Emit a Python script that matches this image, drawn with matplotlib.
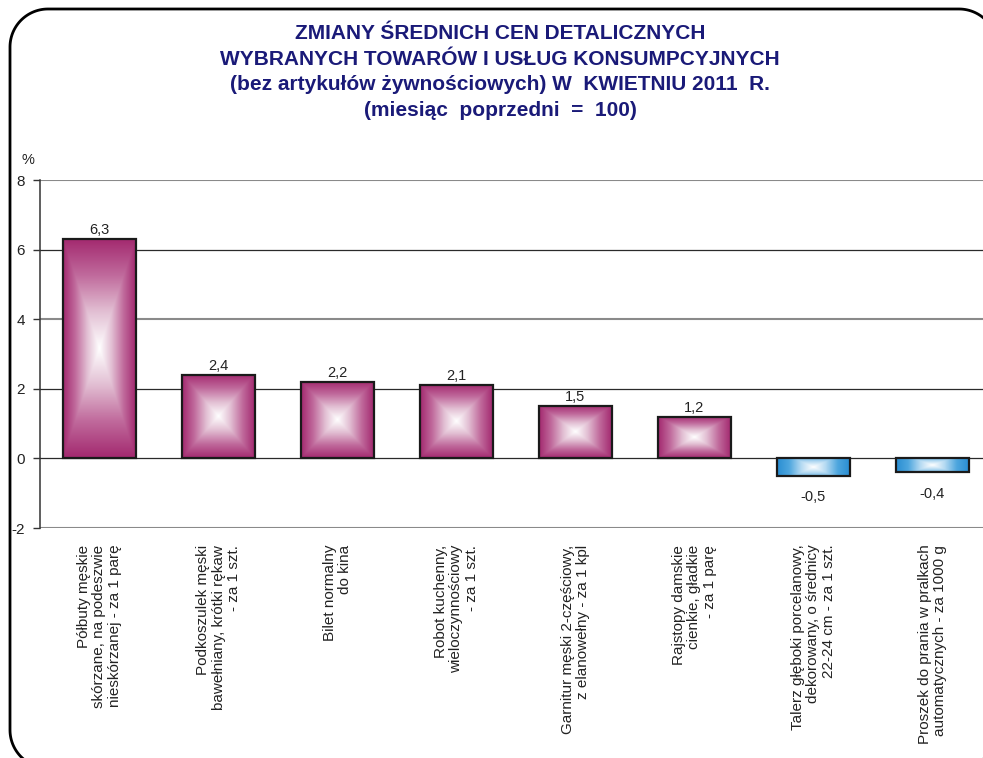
import numpy as np
import matplotlib
matplotlib.use("Agg")
import matplotlib.pyplot as plt
from matplotlib.colors import LinearSegmentedColormap

plt.rcParams['font.family'] = ['Liberation Sans', 'DejaVu Sans']

categories = [
    "Półbuty męskie\nskórzane, na podeszwie\nnieskórzanej - za 1 parę",
    "Podkoszulek męski\nbawełniany, krótki rękaw\n- za 1 szt.",
    "Bilet normalny\ndo kina",
    "Robot kuchenny,\nwieloczynnościowy\n- za 1 szt.",
    "Garnitur męski 2-częściowy,\nz elanowełny - za 1 kpl",
    "Rajstopy damskie\ncienkie, gładkie\n- za 1 parę",
    "Talerz głęboki porcelanowy,\ndekorowany, o średnicy\n22-24 cm - za 1 szt.",
    "Proszek do prania w pralkach\nautomatycznych - za 1000 g",
]
values = [6.3, 2.4, 2.2, 2.1, 1.5, 1.2, -0.5, -0.4]
value_labels = ["6,3", "2,4", "2,2", "2,1", "1,5", "1,2", "-0,5", "-0,4"]
y_ticks = [-2, 0, 2, 4, 6, 8]

title = ("ZMIANY ŚREDNICH CEN DETALICZNYCH\n"
         "WYBRANYCH TOWARÓW I USŁUG KONSUMPCYJNYCH\n"
         "(bez artykułów żywnościowych) W  KWIETNIU 2011  R.\n"
         "(miesiąc  poprzedni  =  100)")

W, H = 983, 758
fig = plt.figure(figsize=(W / 100, H / 100), dpi=100)

# background frame axes (pixel coordinates, y measured from bottom)
bg = fig.add_axes([0, 0, 1, 1], zorder=0)
bg.set_xlim(0, W)
bg.set_ylim(0, H)
bg.axis('off')


def rounded_rect_xy(x0, y0, x1, y1, r, m=30):
    pts = []
    corners = [((x1 - r, y0 + r), -90, 0), ((x1 - r, y1 - r), 0, 90),
               ((x0 + r, y1 - r), 90, 180), ((x0 + r, y0 + r), 180, 270)]
    for (cx, cy), a0, a1 in corners:
        t = np.radians(np.linspace(a0, a1, m))
        pts.extend(zip(cx + r * np.cos(t), cy + r * np.sin(t)))
    pts.append(pts[0])
    return np.array(pts)


fr = rounded_rect_xy(10, H - 768, 997, H - 9, 38)
bg.plot(fr[:, 0], fr[:, 1], color='black', linewidth=2.0,
        solid_joinstyle='round', clip_on=True)

bg.text(500, H - 24, title, ha='center', va='top', fontsize=15,
        fontweight='bold', color='#1a1a78', linespacing=1.44)
bg.text(28, H - 160, "%", ha='center', va='center', fontsize=10.5, color='#222222')

ax = fig.add_axes([40 / W, 1 - 528 / H, 952 / W, 348 / H], zorder=1)
ax.patch.set_alpha(0)

n = len(values)
x = np.arange(n)
bw = 0.61
bars = ax.bar(x, values, width=bw, facecolor='none', edgecolor='#1a1a1a',
              linewidth=1.6, zorder=4)

purple = LinearSegmentedColormap.from_list('p', ['#ffffff', '#e2bfd3', '#c06a9c', '#a3296f'])
blue = LinearSegmentedColormap.from_list('b', ['#ffffff', '#b5daf2', '#4ea6de', '#2a8ed3'])

res = 200
u = np.linspace(-1, 1, res)
U, V = np.meshgrid(u, u)
g_square = np.maximum(np.abs(U), np.abs(V))
g_horiz = np.maximum(np.abs(U), 0.55 * np.abs(V))
for b, v in zip(bars, values):
    x0, y0 = b.get_x(), b.get_y()
    w, h = b.get_width(), b.get_height()
    ylo, yhi = min(y0, y0 + h), max(y0, y0 + h)
    if v >= 0:
        cmap, g = purple, g_square
    else:
        cmap, g = blue, g_horiz
    ax.imshow(g, extent=[x0, x0 + w, ylo, yhi], cmap=cmap, vmin=0, vmax=1,
              aspect='auto', interpolation='bilinear', zorder=3, origin='lower')

for xi, v, lab in zip(x, values, value_labels):
    if v >= 0:
        ax.annotate(lab, (xi, v), xytext=(0, 1.5), textcoords='offset points',
                    ha='center', va='bottom', fontsize=10.5, color='#222222')
    else:
        ax.annotate(lab, (xi, v), xytext=(0, -10.5), textcoords='offset points',
                    ha='center', va='top', fontsize=10.5, color='#222222')

ax.set_xlim(-0.5, n - 0.5)
ax.set_ylim(-2, 8)
ax.set_yticks(y_ticks)
ax.set_yticklabels([str(t) for t in y_ticks], fontsize=11, color='#222222')
grid_style = {-2: ('#8a8a8a', 1.5), 0: ('#2a2a2a', 0.9), 2: ('#2a2a2a', 0.9),
              4: ('#8a8a8a', 1.5), 6: ('#2a2a2a', 0.9), 8: ('#8a8a8a', 1.5)}
for t in y_ticks:
    c, lw = grid_style[t]
    ax.axhline(t, color=c, linewidth=lw, zorder=2)

ax.set_xticks(x)
ax.set_xticklabels(categories, rotation=90, fontsize=11, color='#222222',
                   ha='center', va='top', multialignment='right', linespacing=1.15)
ax.tick_params(axis='x', length=0, pad=12)
ax.tick_params(axis='y', length=5, width=1, color='#333333', pad=6)
for s in ['top', 'right', 'bottom']:
    ax.spines[s].set_visible(False)
ax.spines['left'].set_color('#333333')
ax.spines['left'].set_linewidth(1.1)

fig.savefig("out.png", dpi=100)
